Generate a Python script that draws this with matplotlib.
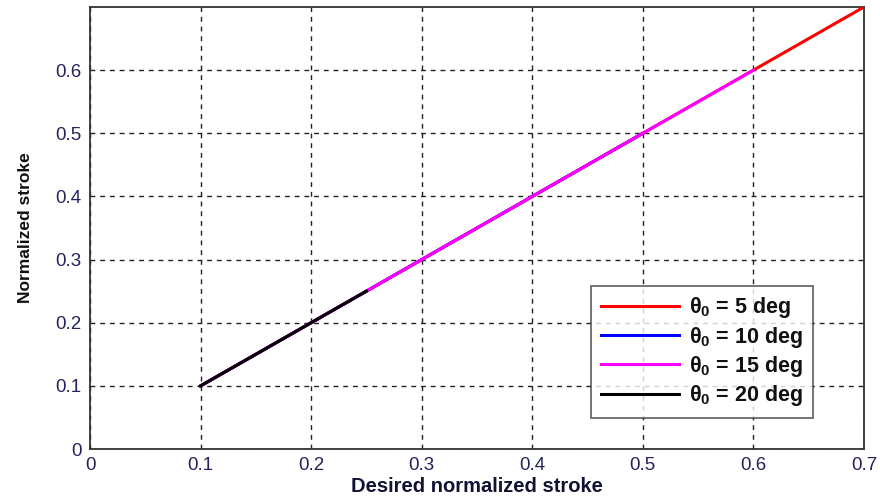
import matplotlib
matplotlib.use("Agg")
import matplotlib.pyplot as plt
import numpy as np

plt.rcParams['font.family'] = ['Liberation Sans', 'DejaVu Sans']
plt.rcParams['mathtext.fontset'] = 'custom'
plt.rcParams['mathtext.rm'] = 'Liberation Sans:bold'
plt.rcParams['mathtext.bf'] = 'Liberation Sans:bold'
plt.rcParams['mathtext.it'] = 'Liberation Sans:bold'

# Data: normalized stroke vs desired normalized stroke for each theta_0
series_labels = ['5', '10', '15', '20']
series_colors = ['#ff0000', '#0000ff', '#ff00ff', '#000000']
x_start = [0.1, 0.1, 0.1, 0.1]
x_end = [0.7, 0.5, 0.6, 0.25]
# Sampled (desired, achieved) pairs - achieved equals desired along the curve
desired_pts = [0.1, 0.15, 0.2, 0.25, 0.3, 0.35, 0.4, 0.45, 0.5, 0.55, 0.6, 0.65, 0.7]
achieved_pts = [0.1, 0.15, 0.2, 0.25, 0.3, 0.35, 0.4, 0.45, 0.5, 0.55, 0.6, 0.65, 0.7]

xticks = [0, 0.1, 0.2, 0.3, 0.4, 0.5, 0.6, 0.7]
yticks = [0, 0.1, 0.2, 0.3, 0.4, 0.5, 0.6]

fig = plt.figure(figsize=(8.8, 4.99), dpi=100)
ax = fig.add_axes([90/880, 1-449/499, (864-90)/880, (449-7)/499])

d = np.array(desired_pts)
a = np.array(achieved_pts)
for lab, col, xs, xe in zip(series_labels, series_colors, x_start, x_end):
    m = (d >= xs - 1e-9) & (d <= xe + 1e-9)
    ax.plot(d[m], a[m], color=col, lw=2.2,
            label=r'θ$_{0}$ = ' + lab + ' deg', zorder=3)

ax.set_xlim(0, 0.7)
ax.set_ylim(0, 0.7)
ax.set_xticks(xticks)
ax.set_yticks(yticks)
ax.set_xticklabels(['0' if v == 0 else f'{v:g}' for v in xticks])
ax.set_yticklabels(['0' if v == 0 else f'{v:g}' for v in yticks])
tickcol = '#24245a'
ax.tick_params(axis='both', labelsize=13.5, labelcolor=tickcol, direction='in',
               length=0, pad=6, top=False, right=False)
ax.grid(True, color='#222222', linestyle=(0, (3.5, 3.5)), linewidth=1.0)
for s in ax.spines.values():
    s.set_color('#333333')
    s.set_linewidth(1.3)

ax.set_xlabel('Desired normalized stroke', fontsize=14.5, fontweight='bold',
              color='#111133', labelpad=2)
ax.set_ylabel('Normalized stroke', fontsize=12.5, fontweight='bold',
              color='#111111', labelpad=16)

leg = ax.legend(loc='lower right', fontsize=15.5, frameon=True, fancybox=False,
                handlelength=3.6, borderpad=0.45, labelspacing=0.2,
                handletextpad=0.5, borderaxespad=0)
leg.get_frame().set_edgecolor('#333333')
leg.get_frame().set_linewidth(1.2)
for t in leg.get_texts():
    t.set_fontweight('bold')
    t.set_color('#111111')
for h in leg.get_lines():
    h.set_linewidth(2.2)
leg.set_bbox_to_anchor((813/880, 1-418/499), transform=fig.transFigure)

fig.savefig('out.png', dpi=100)
